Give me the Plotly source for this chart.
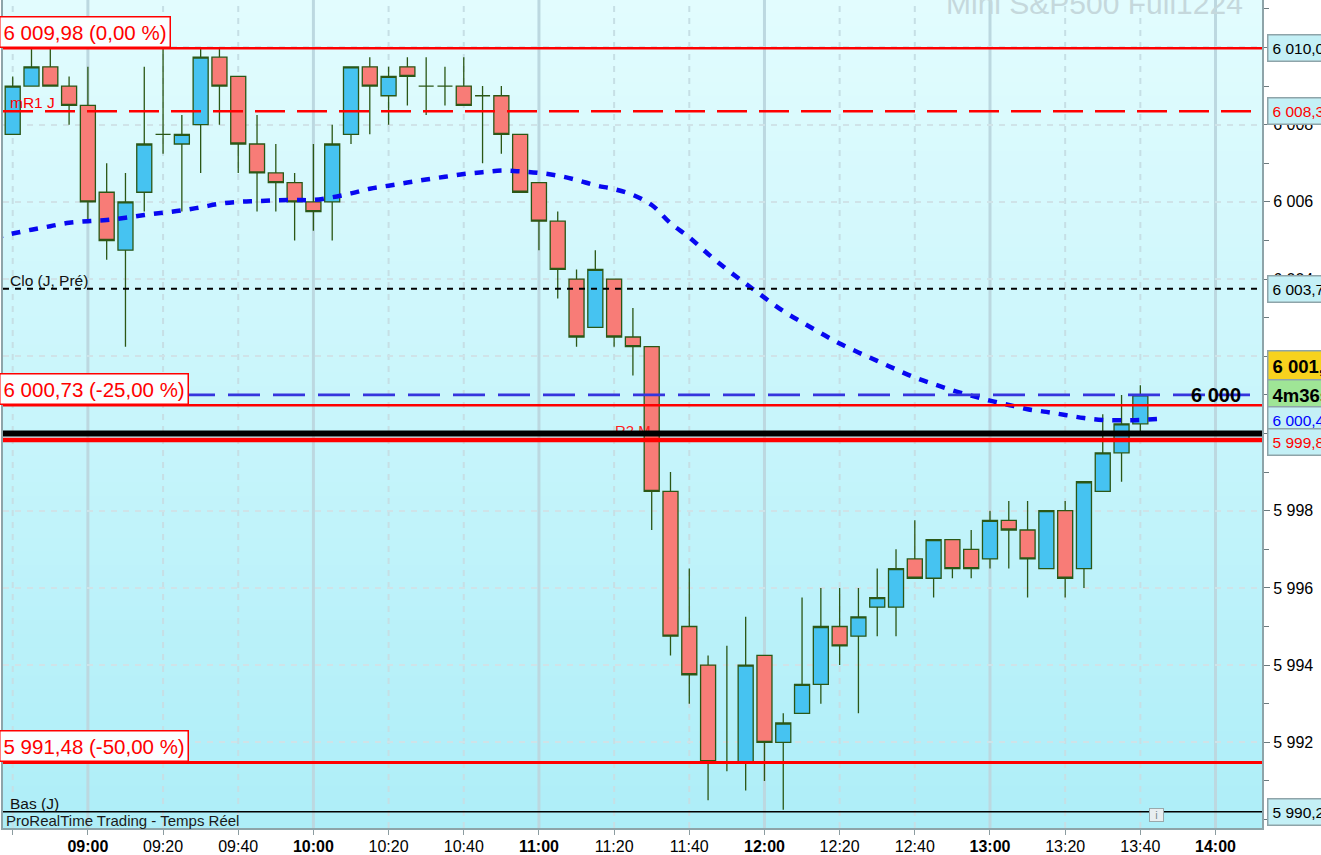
import pandas as pd
import plotly.graph_objects as go

# 5-minute candles, 08:40 -> 13:40
times = pd.date_range("2024-12-09 08:40", "2024-12-09 13:40", freq="5min")
opens = [6007.75, 6009.0, 6009.5, 6009.0, 6008.5, 6006.25, 6004.75, 6006.25, 6007.75, 6007.5,
         6008.0, 6009.75, 6009.25, 6007.5, 6006.75, 6006.5, 6006.0, 6006.0, 6007.75, 6009.5,
         6008.75, 6009.5, 6009.0, 6009.0, 6009.0, 6008.75, 6008.75, 6007.75, 6006.5, 6005.5,
         6004.0, 6002.75, 6004.0, 6002.5, 6002.25, 5998.5, 5995.0, 5994.0, 5991.5, 5991.5,
         5994.25, 5992.0, 5992.75, 5993.5, 5995.0, 5994.75, 5995.5, 5995.5, 5996.75, 5996.25,
         5997.25, 5997.0, 5996.75, 5997.75, 5997.5, 5996.5, 5998.0, 5996.5, 5998.5, 5999.5,
         6000.25]
highs = [6009.25, 6010.0, 6010.0, 6009.25, 6009.5, 6007.0, 6006.75, 6009.5, 6010.0, 6008.25,
         6010.0, 6010.0, 6009.25, 6008.25, 6007.5, 6006.75, 6007.5, 6008.0, 6009.5, 6009.75,
         6009.5, 6009.75, 6009.75, 6009.5, 6009.75, 6009.0, 6009.0, 6007.75, 6006.5, 6005.75,
         6004.25, 6004.75, 6004.0, 6003.25, 6002.25, 5999.0, 5996.5, 5994.25, 5994.5, 5995.25,
         5994.25, 5992.75, 5995.75, 5996.0, 5996.0, 5996.0, 5996.5, 5997.0, 5997.75, 5997.25,
         5997.25, 5997.5, 5998.0, 5998.25, 5998.25, 5998.0, 5998.25, 5998.75, 6000.5, 6001.0,
         6001.25]
lows = [6007.75, 6009.0, 6009.0, 6008.0, 6005.5, 6004.5, 6002.25, 6005.75, 6007.25, 6005.75,
        6006.75, 6008.0, 6006.75, 6005.75, 6005.75, 6005.0, 6005.25, 6005.0, 6007.5, 6007.75,
        6008.0, 6008.5, 6008.25, 6008.5, 6008.5, 6007.0, 6007.25, 6006.25, 6004.75, 6003.5,
        6002.25, 6002.75, 6002.25, 6001.5, 5997.5, 5994.25, 5993.0, 5990.5, 5991.25, 5990.75,
        5991.0, 5990.25, 5992.75, 5993.0, 5994.0, 5992.75, 5994.75, 5994.75, 5996.25, 5995.75,
        5996.25, 5996.25, 5996.5, 5996.5, 5995.75, 5996.5, 5995.75, 5996.0, 5998.5, 5998.75,
        6000.0]
closes = [6009.0, 6009.5, 6009.0, 6008.5, 6006.0, 6005.0, 6006.0, 6007.5, 6007.75, 6007.75,
          6009.75, 6009.0, 6007.5, 6006.75, 6006.5, 6006.0, 6005.75, 6007.5, 6009.5, 6009.0,
          6009.25, 6009.25, 6009.0, 6009.0, 6008.5, 6008.75, 6007.75, 6006.25, 6005.5, 6004.25,
          6002.5, 6004.25, 6002.5, 6002.25, 5998.5, 5994.75, 5993.75, 5991.5, 5991.5, 5994.0,
          5992.0, 5992.5, 5993.5, 5995.0, 5994.5, 5995.25, 5995.75, 5996.5, 5996.25, 5997.25,
          5996.5, 5996.5, 5997.75, 5997.5, 5996.75, 5998.0, 5996.25, 5998.75, 5999.5, 6000.25,
          6001.0]

# moving average (blue dotted curve), from the bar before the first candle to one bar past the last
ma_times = pd.date_range("2024-12-09 08:35", "2024-12-09 13:45", freq="5min")
ma_values = [6005.07,
             6005.18, 6005.28, 6005.37, 6005.46, 6005.50, 6005.53, 6005.59, 6005.66, 6005.72, 6005.78,
             6005.86, 6005.95, 6006.00, 6006.02, 6006.04, 6006.05, 6006.05, 6006.12, 6006.22, 6006.34,
             6006.42, 6006.50, 6006.58, 6006.65, 6006.72, 6006.77, 6006.81, 6006.79, 6006.75, 6006.68,
             6006.57, 6006.43, 6006.33, 6006.18, 6005.92, 6005.45, 6005.08, 6004.65, 6004.25, 6003.88,
             6003.52, 6003.17, 6002.88, 6002.60, 6002.33, 6002.10, 6001.88, 6001.66, 6001.45, 6001.28,
             6001.12, 6000.98, 6000.85, 6000.74, 6000.63, 6000.56, 6000.48, 6000.40, 6000.35, 6000.34,
             6000.35, 6000.38]

# horizontal levels
fib_0 = 6009.98
fib_25 = 6000.73
fib_50 = 5991.48
mr1_day = 6008.35
prev_close = 6003.75
user_line = 6001.0
round_level = 6000.0
r2_month = 5999.83
day_low = 5990.2
last_price = 6001.0
ma_last = 6000.4

# axes
x_ticks = pd.date_range("2024-12-09 08:40", "2024-12-09 14:00", freq="20min")
x_labels = ["", "09:00", "09:20", "09:40", "10:00", "10:20", "10:40", "11:00", "11:20",
            "11:40", "12:00", "12:20", "12:40", "13:00", "13:20", "13:40", "14:00"]
y_ticks = [5992, 5994, 5996, 5998, 6000, 6002, 6004, 6006, 6008, 6010]
y_labels = ["5 992", "5 994", "5 996", "5 998", "6 000", "6 002", "6 004", "6 006", "6 008", "6 010"]

FONT = "Liberation Sans, Arial, sans-serif"

fig = go.Figure()

fig.add_trace(go.Candlestick(
    x=times, open=opens, high=highs, low=lows, close=closes,
    increasing=dict(fillcolor="#46c3f1", line=dict(color="#2b5716", width=1.3)),
    decreasing=dict(fillcolor="#f87c77", line=dict(color="#2b5716", width=1.3)),
    whiskerwidth=0, showlegend=False, hoverinfo="x+y"))

fig.add_trace(go.Scatter(
    x=ma_times, y=ma_values, mode="lines", line_shape="spline",
    line=dict(color="#0808f0", width=4.5, dash="9px,9px"),
    showlegend=False, hoverinfo="skip"))

# "R2 M" sits under the level lines, so draw it as a text trace
fig.add_trace(go.Scatter(
    x=[pd.Timestamp("2024-12-09 11:25")], y=[r2_month], mode="text", text=["R2 M"],
    textposition="top center", textfont=dict(family=FONT, size=15, color="#ff2020"),
    showlegend=False, hoverinfo="skip"))

shapes = []

# vertical background gradient, light cyan at top to deeper cyan at bottom
top_rgb = (226, 252, 254)
bot_rgb = (174, 238, 248)
n_band = 60
for i in range(n_band):
    f = i / (n_band - 1)
    r = round(top_rgb[0] + (bot_rgb[0] - top_rgb[0]) * f)
    g = round(top_rgb[1] + (bot_rgb[1] - top_rgb[1]) * f)
    b = round(top_rgb[2] + (bot_rgb[2] - top_rgb[2]) * f)
    shapes.append(dict(type="rect", xref="paper", yref="paper", layer="below",
                       x0=0, x1=1, y0=1 - (i + 1) / n_band, y1=1 - i / n_band + 0.001,
                       fillcolor=f"rgb({r},{g},{b})", line_width=0))

# vertical grid: solid at the hours, dashed on the 20 minute marks
for t in x_ticks:
    if t.minute == 0:
        shapes.append(dict(type="line", xref="x", yref="paper", layer="below",
                           x0=t, x1=t, y0=0, y1=1, line=dict(color="#bcd8e0", width=3)))
    else:
        shapes.append(dict(type="line", xref="x", yref="paper", layer="below",
                           x0=t, x1=t, y0=0, y1=1,
                           line=dict(color="#c6dfe5", width=2, dash="6px,6px")))


def hline(y, color, width, dash="solid", x0=0, x1=1):
    shapes.append(dict(type="line", xref="paper", yref="y", layer="above",
                       x0=x0, x1=x1, y0=y, y1=y,
                       line=dict(color=color, width=width, dash=dash)))


hline(fib_0, "#ff0000", 2.5)
hline(mr1_day, "#ff0000", 2.5, "30px,12px")
hline(prev_close, "#000000", 2, "6px,6px")
hline(user_line, "#3535dd", 2.6, "32px,13px", 0, 0.9905)
hline(fib_25, "#ff0000", 2.5)
hline(round_level, "#000000", 6)
hline(r2_month, "#ff0000", 4.5)
hline(fib_50, "#ff0000", 3)
hline(day_low, "#000000", 1.5)

annotations = []


def left_box(y, text):
    annotations.append(dict(xref="paper", yref="y", x=0, y=y, xanchor="left", yanchor="bottom",
                            xshift=-4, yshift=0, text=text, showarrow=False,
                            font=dict(family=FONT, size=20.5, color="#ff0000"),
                            bgcolor="#fbfeff", bordercolor="#ff0000", borderwidth=1.5, borderpad=3))


def left_text(y, text, color):
    annotations.append(dict(xref="paper", yref="y", x=0, y=y, xanchor="left", yanchor="bottom",
                            xshift=5, yshift=-2, text=text, showarrow=False,
                            font=dict(family=FONT, size=15.5, color=color)))


def right_box(y, text, color="#000000", bg="#c4f0f6", bold=False, size=15.5):
    if bold:
        text = f"<b>{text}</b>"
    annotations.append(dict(xref="paper", yref="y", x=1, y=y, xanchor="left", yanchor="middle",
                            xshift=5, text=text, showarrow=False, align="left",
                            font=dict(family=FONT, size=size, color=color),
                            bgcolor=bg, bordercolor="#8ea4a9", borderwidth=1.5, borderpad=4))


left_box(fib_0, "6 009,98 (0,00 %)")
left_box(fib_25, "6 000,73 (-25,00 %)")
left_box(fib_50, "5 991,48 (-50,00 %)")
left_text(mr1_day, "mR1 J", "#ff0000")
left_text(prev_close, "Clo (J, Pré)", "#111111")
left_text(day_low, "Bas (J)", "#111111")

right_box(fib_0, "6 010,00")
right_box(mr1_day, "6 008,35", color="#ff0000")
right_box(prev_close, "6 003,75")
right_box(last_price + 0.75, "6 001,00", bg="#f7d21e", bold=True, size=18.5)
right_box(last_price, "4m36s", bg="#9fe596", bold=True, size=18.5)
right_box(ma_last - 0.05, "6 000,40", color="#0000ff")
right_box(r2_month - 0.05, "5 999,83", color="#ff0000")
right_box(day_low, "5 990,25")

# bold label riding on the user line
annotations.append(dict(xref="x", yref="y", x=pd.Timestamp("2024-12-09 14:00"), y=user_line,
                        text="<b>6 000</b>", showarrow=False, xanchor="center", yanchor="middle",
                        font=dict(family=FONT, size=20, color="#000000")))

# watermark, cut by the top edge
annotations.append(dict(xref="paper", yref="paper", x=0.9865, y=1, xanchor="right", yanchor="bottom",
                        yshift=-22, text="Mini S&P500 Full1224", showarrow=False,
                        font=dict(family=FONT, size=30, color="#c5d8dc")))

annotations.append(dict(xref="paper", yref="paper", x=0, y=0, xanchor="left", yanchor="bottom",
                        xshift=1, yshift=-3, text="ProRealTime Trading - Temps Réel", showarrow=False,
                        font=dict(family=FONT, size=15, color="#1a1a1a")))

annotations.append(dict(xref="paper", yref="paper", x=0.9166, y=0.0157, xanchor="center",
                        yanchor="middle", text="i", showarrow=False, width=13, height=12,
                        font=dict(family=FONT, size=11, color="#7a8a8e"),
                        bgcolor="#e8eef0", bordercolor="#9aa8ab", borderwidth=1, borderpad=0))

fig.update_layout(
    width=1321, height=855,
    margin=dict(l=3, r=59, t=0, b=27),
    paper_bgcolor="#ffffff", plot_bgcolor="#d8f6fb",
    boxgap=0.2, boxgroupgap=0,
    shapes=shapes, annotations=annotations,
    font=dict(family=FONT, size=16, color="#000000"),
    xaxis=dict(type="date", range=["2024-12-09 08:37:25", "2024-12-09 14:12:22"],
               rangeslider=dict(visible=False), showgrid=False, zeroline=False, automargin=False,
               tickmode="array", tickvals=x_ticks,
               ticktext=[f"<b>{s}</b>" if s.endswith(":00") else s for s in x_labels],
               ticks="outside", ticklen=5, tickcolor="#8c9ca0", ticklabelstandoff=-2,
               tickfont=dict(family=FONT, size=16, color="#000000"),
               showline=True, linecolor="#8ea4a9", linewidth=2, mirror=True),
    yaxis=dict(side="right", range=[5989.78, 6011.23], zeroline=False, automargin=False,
               tickmode="array", tickvals=y_ticks, ticktext=y_labels,
               ticks="outside", ticklen=6, tickcolor="#6c7a7e",
               tickfont=dict(family=FONT, size=16, color="#000000"),
               showgrid=True, gridcolor="#cfe3e8", gridwidth=1.5, griddash="6px,6px",
               minor=dict(dtick=1, tick0=0, ticks="outside", ticklen=5, tickcolor="#6c7a7e",
                          showgrid=False),
               showline=True, linecolor="#8ea4a9", linewidth=2, mirror=True),
)

# the page's default body margin would push the chart 8px down and right
fig.write_html("out.html", config={"displayModeBar": False},
               post_script="document.body.style.margin='0px';document.body.style.overflow='hidden';")
